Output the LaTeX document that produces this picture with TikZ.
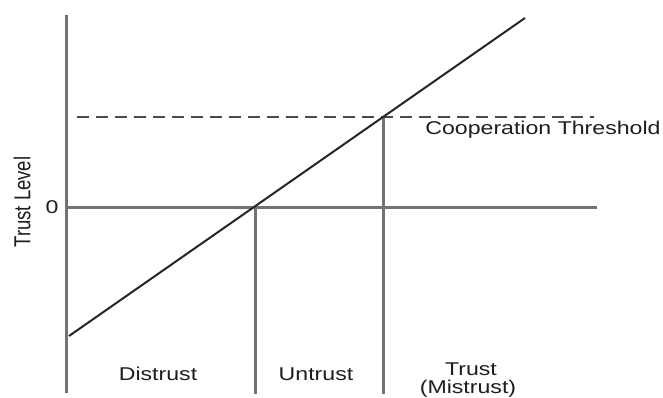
\documentclass[tikz,border=0pt]{standalone}
\usepackage{fontspec}
\setmainfont{Liberation Sans}
\definecolor{axisgray}{RGB}{115,115,115}
\definecolor{dashgray}{RGB}{75,75,75}
\definecolor{textgray}{RGB}{30,30,30}
\begin{document}
\begin{tikzpicture}[x=1pt,y=-1pt,
  axisline/.style={draw=axisgray, line width=3pt},
  trendline/.style={draw=black!85, line width=2pt},
  thresholdline/.style={draw=dashgray, line width=2.5pt, dash pattern=on 12pt off 7pt},
  lbl/.style={text=textgray, inner sep=0pt, font=\fontsize{18.5}{17}\selectfont, align=center}]
\useasboundingbox (0,0) rectangle (663,398);
\fill[white] (0,0) rectangle (663,398);
% coordinates
\coordinate (ytop) at (66,15);
\coordinate (ybot) at (66,393);
\coordinate (xl) at (66,207);
\coordinate (xr) at (597,207);
\coordinate (dl) at (69,336);
\coordinate (dr) at (525,18);
\coordinate (zero) at (255,207);
\coordinate (zerob) at (255,394);
\coordinate (coop) at (383,117);
\coordinate (coopb) at (383,394);
\coordinate (thl) at (77,117);
\coordinate (thr) at (594,117);
% lines
\draw[axisline] (ytop) -- (ybot);
\draw[axisline] (xl) -- (xr);
\draw[axisline] (zero) -- (zerob);
\draw[axisline] (coop) -- (coopb);
\draw[thresholdline] (thl) -- (thr);
\draw[trendline] (dl) -- (dr);
% labels
\node[lbl, rotate=90] (ylabel) at (22,202) {\scalebox{1}[1.25]{Trust Level}};
\node[lbl, anchor=base] (zerolbl) at (52,213) {\scalebox{1.25}[1]{0}};
\node[lbl, anchor=base] (coopl) at (543,135) {\scalebox{1.25}[1]{Cooperation Threshold}};
\node[lbl, anchor=base] (distrust) at (158,380) {\scalebox{1.25}[1]{Distrust}};
\node[lbl, anchor=base] (untrust) at (316,380) {\scalebox{1.25}[1]{Untrust}};
\node[lbl, anchor=base] (trust) at (471,375) {\scalebox{1.25}[1]{Trust}};
\node[lbl, anchor=base] (mistrust) at (468,393) {\scalebox{1.25}[1]{(Mistrust)}};
\end{tikzpicture}
\end{document}
